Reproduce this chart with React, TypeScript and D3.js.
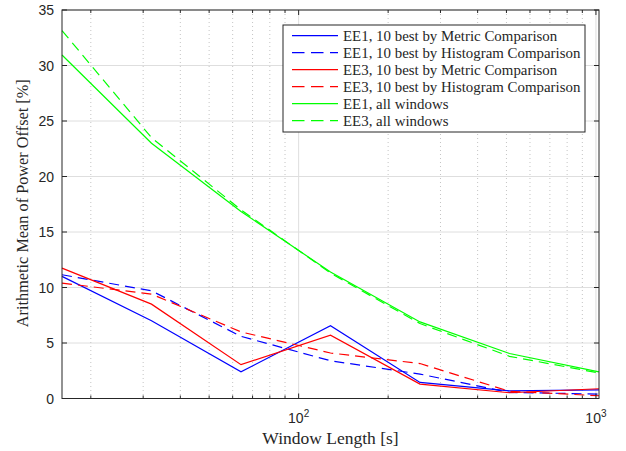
import * as d3 from "d3";

// window lengths in seconds (x positions of all series)
const windowLengths = [16, 32, 64, 128, 256, 512, 1024];

// arithmetic mean of power offset [%]
const ee1Metric = [11.0, 7.0, 2.4, 6.55, 1.45, 0.68, 0.77];
const ee1Histogram = [11.15, 9.7, 5.6, 3.4, 2.2, 0.55, 0.4];
const ee3Metric = [11.75, 8.5, 3.05, 5.7, 1.3, 0.52, 0.88];
const ee3Histogram = [10.4, 9.4, 6.0, 4.1, 3.15, 0.65, 0.25];
const ee1All = [30.95, 23.0, 16.85, 11.4, 6.9, 4.05, 2.4];
const ee3All = [33.15, 23.5, 17.0, 11.3, 6.75, 3.8, 2.3];

const seriesLabels = [
  "EE1, 10 best by Metric Comparison",
  "EE1, 10 best by Histogram Comparison",
  "EE3, 10 best by Metric Comparison",
  "EE3, 10 best by Histogram Comparison",
  "EE1, all windows",
  "EE3, all windows",
];

const yTicks = [0, 5, 10, 15, 20, 25, 30, 35];
const xMajorTicks = [100, 1000];
const xMinorTicks = [20, 30, 40, 50, 60, 70, 80, 90, 200, 300, 400, 500, 600, 700, 800, 900];

const series = [
  { label: seriesLabels[0], values: ee1Metric, color: "#0000ff", dash: null },
  { label: seriesLabels[1], values: ee1Histogram, color: "#0000ff", dash: "10,6" },
  { label: seriesLabels[2], values: ee3Metric, color: "#ff0000", dash: null },
  { label: seriesLabels[3], values: ee3Histogram, color: "#ff0000", dash: "10,6" },
  { label: seriesLabels[4], values: ee1All, color: "#00ff00", dash: null },
  { label: seriesLabels[5], values: ee3All, color: "#00ff00", dash: "10,6" },
];

const width = 626;
const height = 451;
const margin = { top: 10, right: 27, bottom: 52.5, left: 62 };
const axisColor = "#262626";
const sans = "'Liberation Sans', Arial, sans-serif";
const serif = "'Liberation Serif', 'Times New Roman', serif";

export default function App() {
  const innerW = width - margin.left - margin.right;
  const innerH = height - margin.top - margin.bottom;

  const x = d3.scaleLog().domain([16, 1024]).range([0, innerW]);
  const y = d3.scaleLinear().domain([0, 35]).range([innerH, 0]);

  const line = d3
    .line<number>()
    .x((_, i) => x(windowLengths[i]))
    .y((d) => y(d));

  const legendX = 283 - margin.left;
  const legendY = 25 - margin.top;
  const legendW = 302;
  const legendH = 107;
  const rowH = 17;

  return (
    <svg
      width={width}
      height={height}
      style={{ position: "absolute", left: 0, top: 0, background: "#fff" }}
    >
      <g transform={`translate(${margin.left},${margin.top})`}>
        {/* grid */}
        {yTicks.map((t) => (
          <line key={"gy" + t} x1={0} x2={innerW} y1={y(t)} y2={y(t)} stroke="#dedede" strokeWidth={1} />
        ))}
        {xMinorTicks.map((t) => (
          <line
            key={"gxm" + t}
            x1={x(t)}
            x2={x(t)}
            y1={0}
            y2={innerH}
            stroke="#c4c4c4"
            strokeWidth={1}
            strokeDasharray="1,3"
          />
        ))}
        {xMajorTicks.map((t) => (
          <line key={"gx" + t} x1={x(t)} x2={x(t)} y1={0} y2={innerH} stroke="#dedede" strokeWidth={1} />
        ))}

        {/* series */}
        {series.map((s) => (
          <path
            key={s.label}
            d={line(s.values) ?? undefined}
            fill="none"
            stroke={s.color}
            strokeWidth={1.2}
            strokeDasharray={s.dash ?? undefined}
          />
        ))}

        {/* axes box */}
        <rect x={0} y={0} width={innerW} height={innerH} fill="none" stroke={axisColor} strokeWidth={1} />

        {/* y ticks */}
        {yTicks.map((t) => (
          <g key={"ty" + t}>
            <line x1={0} x2={5} y1={y(t)} y2={y(t)} stroke={axisColor} />
            <line x1={innerW} x2={innerW - 5} y1={y(t)} y2={y(t)} stroke={axisColor} />
            <text
              x={-8}
              y={y(t)}
              dy="0.36em"
              textAnchor="end"
              fontFamily={sans}
              fontSize={14}
              fill={axisColor}
            >
              {t}
            </text>
          </g>
        ))}

        {/* x ticks */}
        {xMajorTicks.map((t) => (
          <g key={"tx" + t}>
            <line x1={x(t)} x2={x(t)} y1={innerH} y2={innerH - 5} stroke={axisColor} />
            <line x1={x(t)} x2={x(t)} y1={0} y2={5} stroke={axisColor} />
            <text x={x(t)} y={innerH + 24.5} textAnchor="middle" fontFamily={sans} fontSize={14} fill={axisColor}>
              10
              <tspan fontSize={10} dy={-6}>
                {Math.round(Math.log10(t))}
              </tspan>
            </text>
          </g>
        ))}
        {xMinorTicks.map((t) => (
          <g key={"txm" + t}>
            <line x1={x(t)} x2={x(t)} y1={innerH} y2={innerH - 3} stroke={axisColor} />
            <line x1={x(t)} x2={x(t)} y1={0} y2={3} stroke={axisColor} />
          </g>
        ))}

        {/* axis labels */}
        <text
          x={innerW / 2}
          y={innerH + 45.5}
          textAnchor="middle"
          fontFamily={serif}
          fontSize={17.5}
          fill={axisColor}
        >
          Window Length [s]
        </text>
        <text
          transform={`translate(${22 - margin.left},${innerH / 2 - 1}) rotate(-90)`}
          dy="0.35em"
          textAnchor="middle"
          fontFamily={serif}
          fontSize={16.3}
          fill={axisColor}
        >
          Arithmetic Mean of Power Offset [%]
        </text>

        {/* legend */}
        <g transform={`translate(${legendX},${legendY})`}>
          <rect x={0} y={0} width={legendW} height={legendH} fill="#fff" stroke={axisColor} strokeWidth={1} />
          {series.map((s, i) => (
            <g key={"lg" + i} transform={`translate(0,${10.7 + i * rowH})`}>
              <line
                x1={9}
                x2={55}
                y1={0}
                y2={0}
                stroke={s.color}
                strokeWidth={1.2}
                strokeDasharray={s.dash ? "12.5,6.5" : undefined}
              />
              <text x={60} y={0} dy="0.33em" fontFamily={serif} fontSize={14.9} fill={axisColor}>
                {s.label}
              </text>
            </g>
          ))}
        </g>
      </g>
    </svg>
  );
}
